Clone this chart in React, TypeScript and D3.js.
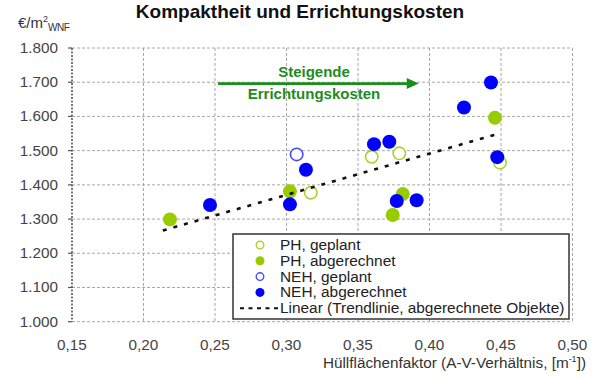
import React from 'react';
import * as d3 from 'd3';

const W = 600;
const H = 378;

const xTicks = [0.15, 0.2, 0.25, 0.3, 0.35, 0.4, 0.45, 0.5];
const yTicks = [1.0, 1.1, 1.2, 1.3, 1.4, 1.5, 1.6, 1.7, 1.8];

const phGeplant: [number, number][] = [
  [0.317, 1.377], [0.3596, 1.482], [0.3789, 1.492], [0.4493, 1.465],
];
const phAbgerechnet: [number, number][] = [
  [0.2185, 1.299], [0.3024, 1.381], [0.3743, 1.312], [0.3813, 1.373], [0.4458, 1.596],
];
const nehGeplant: [number, number][] = [[0.3071, 1.489]];
const nehAbgerechnet: [number, number][] = [
  [0.2465, 1.341], [0.3024, 1.343], [0.3136, 1.444], [0.3612, 1.519], [0.3719, 1.526],
  [0.3771, 1.353], [0.391, 1.355], [0.4241, 1.626], [0.443, 1.699], [0.4474, 1.481],
];
const trendRange = [0.2135, 0.446];

const legendLabels = [
  'PH, geplant',
  'PH, abgerechnet',
  'NEH, geplant',
  'NEH, abgerechnet',
  'Linear (Trendlinie, abgerechnete Objekte)',
];

const GREEN = '#99cc00';
const BLUE = '#0000ff';
const FONT = '"Liberation Sans", Arial, sans-serif';

const fmtX = (v: number) => d3.format('.2f')(v).replace('.', ',');
const fmtY = (v: number) => d3.format('.3f')(v);

export default function App() {
  const x = d3.scaleLinear().domain([0.15, 0.5]).range([72, 572.5]);
  const y = d3.scaleLinear().domain([1.0, 1.8]).range([321.7, 48]);

  const abg = [...phAbgerechnet, ...nehAbgerechnet];
  const mx = d3.mean(abg, (d) => d[0]) as number;
  const my = d3.mean(abg, (d) => d[1]) as number;
  const sxy = d3.sum(abg, (d) => (d[0] - mx) * (d[1] - my));
  const sxx = d3.sum(abg, (d) => (d[0] - mx) ** 2);
  const slope = sxy / sxx;
  const trend = trendRange.map((v) => [v, my + slope * (v - mx)] as [number, number]);
  const line = d3.line<[number, number]>().x((d) => x(d[0])).y((d) => y(d[1]));

  const r = 7;

  const series = [
    { data: phGeplant, fill: '#fff', stroke: '#a8d42a', sw: 1.6 },
    { data: phAbgerechnet, fill: GREEN, stroke: GREEN, sw: 0 },
    { data: nehGeplant, fill: '#fff', stroke: '#4a4aff', sw: 1.6 },
    { data: nehAbgerechnet, fill: BLUE, stroke: BLUE, sw: 0 },
  ];

  const lgX = 233, lgY = 234, lgW = 336, lgH = 85;
  const rowY = (i: number) => 245 + i * 15.8;

  const arrowY = y(1.696);
  const ax0 = x(0.2522), ax1 = x(0.3925);

  return (
    <svg width={W} height={H} style={{ position: 'absolute', left: 0, top: 0, background: '#fff' }} fontFamily={FONT}>
      <rect width={W} height={H} fill="#fff" />
      <text x={300} y={18} textAnchor="middle" fontSize={19} fontWeight="bold" fill="#111">
        Kompaktheit und Errichtungskosten
      </text>
      <text x={18} y={28} fontSize={15} fill="#333">
        €/m<tspan fontSize={9} dy={-6}>2</tspan>
        <tspan fontSize={10} dy={9} letterSpacing={-0.5}>WNF</tspan>
      </text>
      {yTicks.map((t) => (
        <line key={'gy' + t} x1={x(0.15)} x2={x(0.5)} y1={y(t)} y2={y(t)} stroke="#a8a8a8" strokeWidth={1} strokeDasharray="3,2" />
      ))}
      {xTicks.slice(1).map((t) => (
        <line key={'gx' + t} x1={x(t)} x2={x(t)} y1={y(1.8)} y2={y(1.0)} stroke="#a8a8a8" strokeWidth={1} strokeDasharray="3,2" />
      ))}
      <line x1={x(0.15)} x2={x(0.15)} y1={y(1.8)} y2={y(1.0)} stroke="#555" strokeWidth={1.6} strokeDasharray="2,1.5" />
      {yTicks.map((t) => (
        <g key={'yt' + t}>
          <line x1={x(0.15) - 4} x2={x(0.15)} y1={y(t)} y2={y(t)} stroke="#555" strokeWidth={1.2} />
          <text x={58} y={y(t) + 5} textAnchor="end" fontSize={15.3} fill="#444">
            {fmtY(t)}
          </text>
        </g>
      ))}
      {xTicks.map((t) => (
        <text key={'xt' + t} x={x(t)} y={350} textAnchor="middle" fontSize={15.3} fill="#444">
          {fmtX(t)}
        </text>
      ))}
      <text x={586} y={368} textAnchor="end" fontSize={15.3} fill="#333">
        Hüllflächenfaktor (A-V-Verhältnis, [m<tspan fontSize={9} dy={-6}>-1</tspan>
        <tspan dy={6}>])</tspan>
      </text>
      <line x1={ax0} x2={ax1 - 10} y1={arrowY} y2={arrowY} stroke="#1a8c1a" strokeWidth={2.6} />
      <path d={`M${ax1},${arrowY} L${ax1 - 12},${arrowY - 5.5} L${ax1 - 12},${arrowY + 5.5} Z`} fill="#1a8c1a" />
      <text x={314} y={77} textAnchor="middle" fontSize={15} fontWeight="bold" fill="#1e8c1e">
        Steigende
      </text>
      <text x={314} y={99} textAnchor="middle" fontSize={15} fontWeight="bold" fill="#1e8c1e">
        Errichtungskosten
      </text>
      {series.map((s, i) => (
        <g key={'s' + i}>
          {s.data.map((d, j) => (
            <circle key={j} cx={x(d[0])} cy={y(d[1])} r={s.sw ? r - 0.8 : r} fill={s.fill} stroke={s.sw ? s.stroke : 'none'} strokeWidth={s.sw} />
          ))}
        </g>
      ))}
      <path d={line(trend) || ''} fill="none" stroke="#111" strokeWidth={2.6} strokeDasharray="4,7" />
      <rect x={lgX} y={lgY} width={lgW} height={lgH} fill="#fff" stroke="#333" strokeWidth={1.5} />
      {series.map((s, i) => (
        <circle key={'lg' + i} cx={260} cy={rowY(i)} r={s.sw ? 3.8 : 4.5} fill={s.fill} stroke={s.sw ? s.stroke : 'none'} strokeWidth={s.sw ? 1.4 : 0} />
      ))}
      <line x1={240} x2={279} y1={rowY(4)} y2={rowY(4)} stroke="#111" strokeWidth={2} strokeDasharray="4,4.5" />
      {legendLabels.map((l, i) => (
        <text key={'lt' + i} x={280} y={rowY(i) + 5} fontSize={15.4} fill="#222">
          {l}
        </text>
      ))}
    </svg>
  );
}
